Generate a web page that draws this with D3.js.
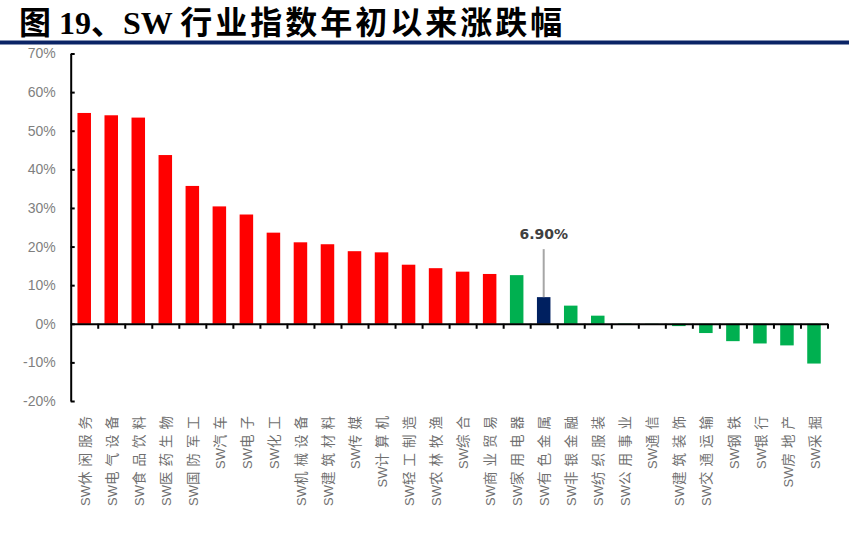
<!DOCTYPE html>
<html>
<head>
<meta charset="utf-8">
<script src="https://cdn.jsdelivr.net/npm/d3@7"></script>
<style>
  body { margin: 0; background: #fff; }
  svg { display: block; }
</style>
</head>
<body>
<div class="chart"></div>
<script>
// industries, sorted by YTD change
const categories = ["SW休闲服务", "SW电气设备", "SW食品饮料", "SW医药生物", "SW国防军工", "SW汽车", "SW电子",
  "SW化工", "SW机械设备", "SW建筑材料", "SW传媒", "SW计算机", "SW轻工制造", "SW农林牧渔", "SW综合",
  "SW商业贸易", "SW家用电器", "SW有色金属", "SW非银金融", "SW纺织服装", "SW公用事业", "SW通信",
  "SW建筑装饰", "SW交通运输", "SW钢铁", "SW银行", "SW房地产", "SW采掘"];
// YTD change, %
const values = [54.6, 54.0, 53.4, 43.7, 35.7, 30.4, 28.3, 23.6, 21.1, 20.6, 18.8, 18.5, 15.3, 14.4, 13.5,
  12.9, 12.6, 6.9, 4.7, 2.1, 0.1, -0.1, -0.6, -2.4, -4.5, -5.1, -5.6, -10.3];
const yTicks = [-20, -10, 0, 10, 20, 30, 40, 50, 60, 70];
const highlight = "SW有色金属";
const highlightLabel = "6.90%";
const redCount = 16;   // top industries drawn in red

const w = 849;
const h = 533;
const plotLeft = 70.7, plotRight = 827.5, plotTop = 53.5, plotBottom = 401;

let svg = d3.select(".chart").append("svg")
  .attr("width", w)
  .attr("height", h);

// title + rule
let title = svg.append("text")
  .attr("x", 19)
  .attr("y", 34)
  .attr("font-size", 32)
  .attr("fill", "#000");
title.append("tspan").text("图").attr("font-family", "'Noto Sans CJK SC'").attr("font-weight", 700);
title.append("tspan").text(" 19").attr("font-family", "'Liberation Serif'").attr("font-weight", "bold");
title.append("tspan").text("、").attr("font-family", "'Noto Sans CJK SC'").attr("font-weight", 700);
title.append("tspan").text("SW ").attr("font-family", "'Liberation Serif'").attr("font-weight", "bold");
title.append("tspan").text("行业指数年初以来涨跌幅").attr("font-family", "'Noto Sans CJK SC'")
  .attr("font-weight", 700).attr("letter-spacing", 3);

svg.append("rect")
  .attr("x", 0).attr("y", 40.5)
  .attr("width", w).attr("height", 4)
  .attr("fill", "#0b2466");

// scales
const x = d3.scaleBand().domain(categories).range([plotLeft, plotRight])
  .paddingInner(0.5).paddingOuter(0.25);
const idx = d3.scaleLinear().domain([0, categories.length]).range([plotLeft, plotRight]);
const y = d3.scaleLinear().domain([-20, 70]).range([plotBottom, plotTop]);

const colorOf = (d, i) => d === highlight ? "#002060" : (i < redCount ? "#ff0000" : "#00b050");

// bars
svg.selectAll(".bar")
  .data(categories)
  .enter()
  .append("rect")
  .attr("class", "bar")
  .attr("x", d => x(d))
  .attr("width", x.bandwidth())
  .attr("y", (d, i) => y(Math.max(0, values[i])))
  .attr("height", (d, i) => Math.abs(y(values[i]) - y(0)))
  .attr("fill", colorOf);

// y axis
const yAxis = d3.axisLeft(y)
  .tickValues(yTicks)
  .tickFormat(d => d + "%")
  .tickSizeInner(-4)
  .tickSizeOuter(0)
  .tickPadding(15);
let gy = svg.append("g")
  .attr("transform", "translate(" + plotLeft + ",0)")
  .call(yAxis);
gy.select(".domain").attr("stroke", "#000").attr("stroke-width", 2);
gy.selectAll(".tick line").attr("stroke", "#000").attr("stroke-width", 2);
gy.selectAll(".tick text")
  .attr("fill", "#7f7f7f")
  .attr("font-family", "'Liberation Sans', Arial, sans-serif")
  .attr("font-size", 14);

// x axis on zero line, ticks between categories
const xAxis = d3.axisBottom(idx)
  .tickValues(d3.range(1, categories.length + 1))
  .tickFormat("")
  .tickSizeInner(5)
  .tickSizeOuter(0);
let gx = svg.append("g")
  .attr("transform", "translate(0," + y(0) + ")")
  .call(xAxis);
gx.select(".domain").attr("stroke", "#000").attr("stroke-width", 2);
gx.selectAll(".tick line").attr("stroke", "#000").attr("stroke-width", 2);

// category labels, vertical
let labels = svg.selectAll(".cat")
  .data(categories)
  .enter()
  .append("text")
  .attr("class", "cat")
  .attr("transform", d => "translate(" + (x(d) + x.bandwidth() / 2) + ",411) rotate(-90)")
  .attr("text-anchor", "end")
  .attr("dy", "0.35em")
  .attr("fill", "#6f6f6f");
labels.append("tspan")
  .text("SW")
  .attr("font-family", "'Liberation Sans', Arial, sans-serif")
  .attr("font-size", 13);
labels.append("tspan")
  .text(d => d.slice(2))
  .attr("font-family", "'Noto Sans CJK SC'")
  .attr("font-size", 13.5)
  .attr("letter-spacing", 5);

// highlight annotation
const hi = categories.indexOf(highlight);
const hx = x(highlight) + x.bandwidth() / 2;
svg.append("line")
  .attr("x1", hx).attr("x2", hx)
  .attr("y1", y(values[hi]) - 48)
  .attr("y2", y(values[hi]))
  .attr("stroke", "#a6a6a6")
  .attr("stroke-width", 2);
svg.append("text")
  .attr("x", hx)
  .attr("y", y(values[hi]) - 58)
  .attr("text-anchor", "middle")
  .attr("font-family", "'DejaVu Sans', sans-serif")
  .attr("font-weight", "bold")
  .attr("font-size", 14)
  .attr("fill", "#404040")
  .text(highlightLabel);
</script>
</body>
</html>
